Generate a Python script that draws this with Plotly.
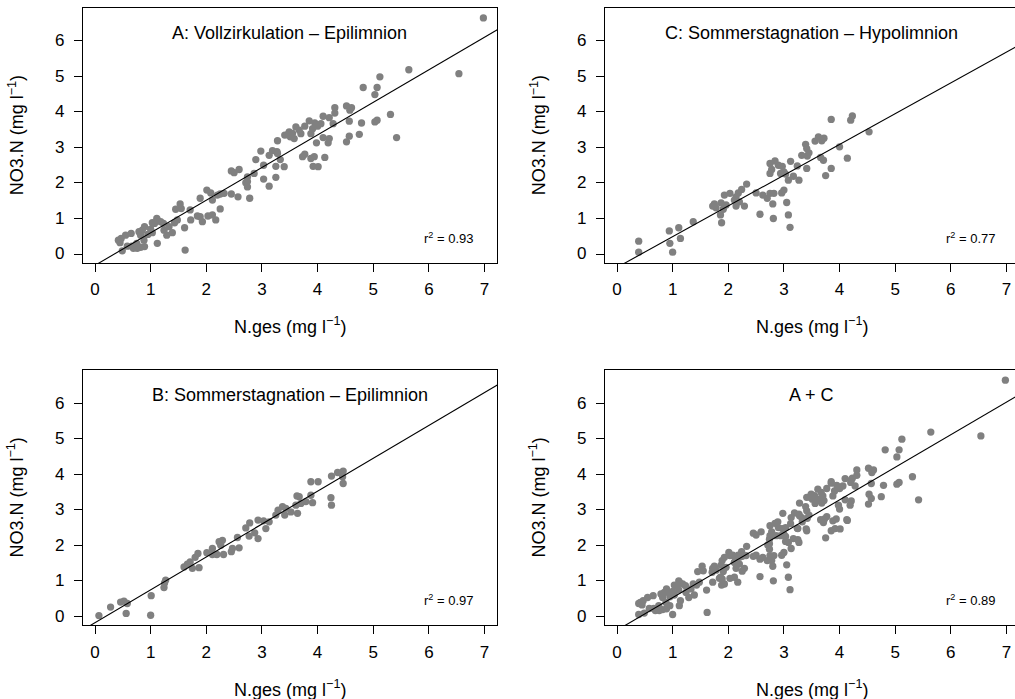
import plotly.graph_objects as go

# ---------------- data ----------------
a_x = [6.98, 6.54, 5.64, 5.12, 5.07, 4.82, 5.03, 5.31, 5.42, 5.07, 5.03, 4.79, 4.75, 4.57, 4.52,
       4.57, 4.52, 4.61, 4.58, 4.31, 4.31, 4.21, 4.10, 4.28, 4.06, 4.01, 3.95, 3.91, 3.88, 3.98,
       4.10, 4.21, 4.19, 4.13, 3.94, 3.88, 3.73, 3.77, 3.92, 4.01, 3.77, 3.67, 3.61, 3.49, 3.51,
       3.46, 3.58, 3.70, 3.41, 3.28, 3.28, 3.33, 3.25, 3.40, 3.25, 3.13, 3.03, 3.03, 3.13, 3.19,
       3.27, 2.98, 2.89, 2.86, 2.74, 2.71, 2.74, 2.78, 2.57, 2.74, 2.59, 2.50, 2.45, 2.45, 2.32,
       2.25, 2.20, 2.11, 2.01, 2.08, 1.89, 1.89, 2.03, 2.11, 2.17, 2.25, 1.93, 1.84, 1.71, 1.72,
       1.53, 1.55, 1.45, 1.48, 1.43, 1.61, 1.62, 1.39, 1.33, 1.23, 1.18, 1.12, 1.07, 1.03, 1.11,
       1.24, 1.29, 1.12, 1.03, 0.89, 0.85, 0.82, 0.79, 0.88, 0.89, 0.82, 0.76, 0.69, 0.66, 0.65,
       0.58, 0.55, 0.49, 0.45, 0.42, 0.47, 0.75, 0.95, 1.00, 3.55, 4.00, 3.85]
a_y = [6.65, 5.08, 5.19, 4.99, 4.69, 4.69, 4.49, 3.93, 3.28, 3.77, 3.72, 3.69, 3.37, 3.32, 3.16,
       3.74, 4.17, 4.12, 4.05, 4.12, 3.97, 3.84, 3.88, 3.67, 3.67, 3.63, 3.69, 3.53, 3.39, 3.13,
       3.28, 3.25, 3.13, 2.72, 2.74, 2.69, 2.74, 2.81, 2.47, 2.46, 3.60, 3.49, 3.58, 3.44, 3.30,
       3.36, 3.25, 3.39, 3.35, 3.19, 2.83, 2.66, 2.47, 2.46, 2.16, 1.91, 2.11, 2.50, 2.78, 2.91,
       2.88, 2.90, 2.66, 2.27, 2.17, 2.01, 1.89, 1.57, 1.61, 2.04, 2.38, 2.29, 2.34, 1.69, 1.71,
       1.69, 1.66, 1.52, 1.80, 1.72, 1.57, 1.05, 1.07, 1.10, 0.96, 1.27, 0.91, 1.07, 1.24, 0.96,
       1.41, 1.28, 1.26, 0.96, 0.88, 0.74, 0.11, 0.60, 0.77, 0.86, 0.91, 0.96, 0.86, 0.88, 1.00,
       0.67, 0.53, 0.30, 0.60, 0.77, 0.67, 0.53, 0.63, 0.39, 0.21, 0.19, 0.16, 0.16, 0.22, 0.58,
       0.22, 0.53, 0.09, 0.32, 0.39, 0.44, 0.30, 0.55, 0.70, 3.40, 3.60, 3.75]

b_x = [0.07, 0.28, 0.46, 0.52, 0.58, 0.56, 1.00, 1.01, 1.24, 1.27, 1.25, 1.60, 1.66, 1.71, 1.75,
       1.80, 1.85, 1.87, 2.01, 2.11, 2.11, 2.19, 2.23, 2.29, 2.26, 2.31, 2.45, 2.47, 2.56, 2.59,
       2.71, 2.78, 2.77, 2.87, 2.93, 2.93, 3.03, 3.07, 3.13, 3.25, 3.29, 3.37, 3.43, 3.41, 3.52,
       3.61, 3.63, 3.67, 3.64, 3.70, 3.79, 3.88, 3.91, 3.88, 4.01, 4.24, 4.25, 4.25, 4.36, 4.46,
       4.45, 4.46]
b_y = [0.02, 0.26, 0.40, 0.43, 0.36, 0.08, 0.03, 0.58, 0.81, 1.02, 0.94, 1.39, 1.47, 1.53, 1.35,
       1.66, 1.77, 1.37, 1.79, 1.91, 1.74, 1.74, 2.10, 2.14, 2.00, 1.74, 1.82, 1.91, 2.22, 1.93,
       2.49, 2.63, 2.26, 2.35, 2.19, 2.71, 2.69, 2.47, 2.66, 2.85, 2.99, 3.09, 3.04, 2.85, 2.94,
       3.13, 3.39, 3.37, 2.90, 3.18, 3.23, 3.41, 3.20, 3.79, 3.79, 3.34, 3.13, 3.95, 4.05, 4.09,
       3.93, 3.74]

c_x = [0.39, 0.39, 0.94, 1.11, 0.95, 1.00, 1.14, 1.37, 1.72, 1.75, 1.78, 1.87, 1.93, 2.03, 1.96,
       1.91, 1.86, 1.88, 2.11, 2.14, 2.18, 2.24, 2.33, 2.20, 2.29, 2.14, 2.50, 2.62, 2.70, 2.75,
       2.82, 2.80, 2.57, 2.81, 2.75, 2.84, 2.78, 2.75, 2.97, 2.94, 3.00, 3.03, 3.00, 2.96, 3.05,
       3.08, 3.11, 3.08, 3.12, 3.17, 3.27, 3.24, 3.32, 3.39, 3.41, 3.45, 3.42, 3.41, 3.56, 3.62,
       3.68, 3.72, 3.66, 3.71, 3.75, 3.85, 3.85, 4.00, 4.14, 4.20, 4.23, 4.53, 2.90]
c_y = [0.36, 0.05, 0.65, 0.74, 0.30, 0.05, 0.44, 0.91, 1.35, 1.41, 1.30, 1.44, 1.66, 1.71, 1.38,
       1.26, 1.10, 0.88, 1.52, 1.35, 1.72, 1.82, 1.97, 1.47, 1.35, 1.61, 1.72, 1.66, 1.57, 1.71,
       1.71, 1.41, 1.12, 1.00, 2.55, 2.62, 2.38, 2.27, 2.47, 2.27, 2.31, 2.25, 1.80, 1.72, 1.45,
       1.10, 0.75, 2.08, 2.61, 2.19, 2.08, 2.48, 2.78, 3.09, 2.97, 2.85, 2.76, 2.41, 3.18, 3.30,
       3.19, 3.26, 2.72, 2.64, 2.21, 3.79, 2.41, 3.02, 2.70, 3.77, 3.89, 3.44, 2.50]

# regression lines (intercept, slope) and r^2 labels
fit_a = (-0.32, 0.918)
fit_b = (-0.18, 0.926)
fit_c = (-0.378, 0.866)
fit_d = (-0.391, 0.9176)
r2_labels = ["0.93", "0.97", "0.77", "0.89"]
titles = ["A: Vollzirkulation – Epilimnion", "B: Sommerstagnation – Epilimnion",
          "C: Sommerstagnation – Hypolimnion", "A + C"]
x_ticks = [0, 1, 2, 3, 4, 5, 6, 7]
y_ticks = [0, 1, 2, 3, 4, 5, 6]

d_x = a_x + c_x
d_y = a_y + c_y

# ---------------- layout geometry ----------------
W, H = 1015, 699
FONT = "Liberation Sans, Arial, Helvetica, sans-serif"
GRAY = "#808080"
XR_FULL = [-0.2157, 7.23]
XR_CUT = [-0.2157, -0.2157 + (1015 - 605) / 55.64]
YR = [-0.2535, 6.94]

left_dom = [83 / W, 497.3 / W]
right_dom = [605 / W, 1.0]
top_dom = [1 - 263 / H, 1 - 7.6 / H]
bot_dom = [1 - 625.3 / H, 1 - 369.9 / H]

panels = [
    ("", a_x, a_y, fit_a, r2_labels[0], titles[0], left_dom, top_dom, XR_FULL, True),
    ("2", c_x, c_y, fit_c, r2_labels[2], titles[2], right_dom, top_dom, XR_CUT, False),
    ("3", b_x, b_y, fit_b, r2_labels[1], titles[1], left_dom, bot_dom, XR_FULL, True),
    ("4", d_x, d_y, fit_d, r2_labels[3], titles[3], right_dom, bot_dom, XR_CUT, False),
]

fig = go.Figure()
annotations = []
for suf, xs, ys, fit, r2, title, xd, yd, xr, leftcol in panels:
    xa, ya = "x" + suf, "y" + suf
    fig.add_trace(go.Scatter(x=xs, y=ys, mode="markers", xaxis=xa, yaxis=ya,
                             marker=dict(size=7.3, color=GRAY, line=dict(width=0)),
                             hoverinfo="skip"))
    lx = [XR_FULL[0], XR_FULL[1]]
    ly = [fit[0] + fit[1] * v for v in lx]
    fig.add_trace(go.Scatter(x=lx, y=ly, mode="lines", xaxis=xa, yaxis=ya,
                             line=dict(color="black", width=1.1), hoverinfo="skip"))
    axcommon = dict(showgrid=False, zeroline=False, showline=True, linecolor="black",
                    linewidth=1, ticks="outside", ticklen=8, tickwidth=1, tickcolor="black",
                    tickfont=dict(family=FONT, size=17, color="black"))
    fig.update_layout(**{
        "xaxis" + suf: dict(domain=xd, range=xr, tickvals=x_ticks, mirror=True,
                            anchor=ya, ticklabelstandoff=3, **axcommon),
        "yaxis" + suf: dict(domain=yd, range=YR, tickvals=y_ticks, mirror=leftcol,
                            anchor=xa, showticklabels=False, **axcommon),
    })
    x_left_px = xd[0] * W
    # y tick labels placed as text next to the ticks
    for t in y_ticks:
        annotations.append(dict(x=(x_left_px - 17) / W, y=t, xref="paper", yref=ya,
                                text=str(t), showarrow=False,
                                font=dict(family=FONT, size=17, color="black"),
                                xanchor="right", yanchor="middle"))
    annotations.append(dict(x=3.5, y=6.22, xref=xa, yref=ya, text=title, showarrow=False,
                            font=dict(family=FONT, size=18, color="black"),
                            xanchor="center", yanchor="middle"))
    annotations.append(dict(x=6.36, y=0.45, xref=xa, yref=ya,
                            text="r<sup>2</sup> = " + r2, showarrow=False,
                            font=dict(family=FONT, size=13, color="black"),
                            xanchor="center", yanchor="middle"))
    x_right_px = x_left_px + 414.3
    ybot_px = (1 - yd[0]) * H
    ytop_px = (1 - yd[1]) * H
    annotations.append(dict(x=(x_left_px + x_right_px) / 2 / W, y=1 - (ybot_px + 63) / H,
                            xref="paper", yref="paper",
                            text="N.ges (mg l<sup>−1</sup>)", showarrow=False,
                            font=dict(family=FONT, size=18, color="black"),
                            xanchor="center", yanchor="middle"))
    annotations.append(dict(x=(x_left_px - 67) / W, y=1 - (ybot_px + ytop_px) / 2 / H,
                            xref="paper", yref="paper", textangle=-90,
                            text="NO3.N (mg l<sup>−1</sup>)", showarrow=False,
                            font=dict(family=FONT, size=18, color="black"),
                            xanchor="center", yanchor="middle"))

fig.update_layout(width=W, height=H, margin=dict(l=0, r=0, t=0, b=0, pad=0),
                  paper_bgcolor="white", plot_bgcolor="white", showlegend=False,
                  annotations=annotations, font=dict(family=FONT, color="black"))
fig.write_html("out.html", include_plotlyjs=True, config={"displayModeBar": False})
